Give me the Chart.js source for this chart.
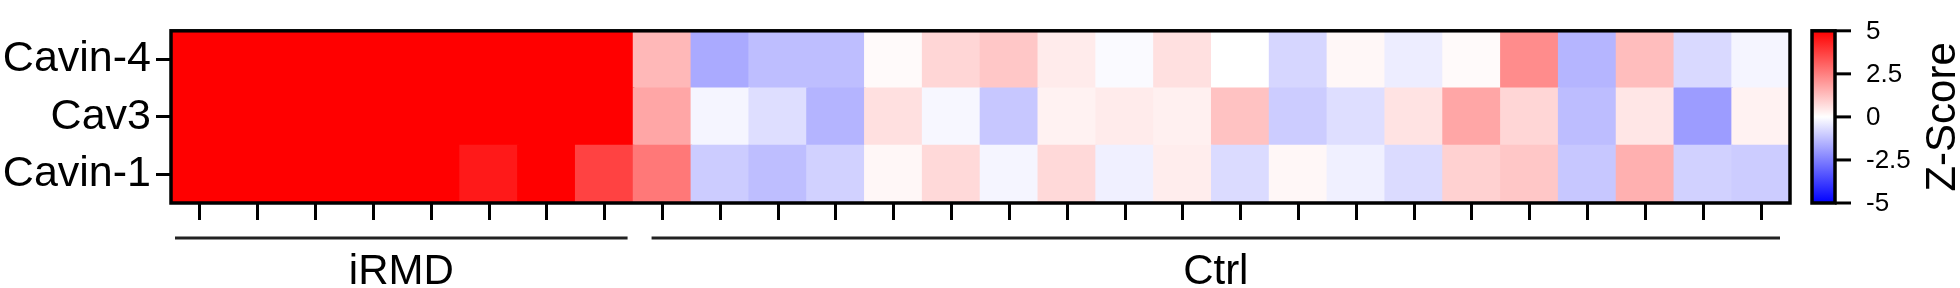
<!DOCTYPE html>
<html>
<head>
<meta charset="utf-8">
<script src="https://cdn.jsdelivr.net/npm/chart.js@4/dist/chart.umd.min.js"></script>
<style>
  html, body { margin: 0; padding: 0; background: #fff; }
  #wrap { width: 1960px; height: 288px; }
</style>
</head>
<body>
<div id="wrap"><canvas id="heat" width="1960" height="288"></canvas></div>
<script>
// Rows, top to bottom as shown
const rowLabels = ['Cavin-4', 'Cav3', 'Cavin-1'];

// Columns: 8 iRMD samples then 20 controls
const groupNames = ['iRMD', 'Ctrl'];
const groupSizes = [8, 20];
const sampleIds = [
  'iRMD1', 'iRMD2', 'iRMD3', 'iRMD4', 'iRMD5', 'iRMD6', 'iRMD7', 'iRMD8',
  'Ctrl1', 'Ctrl2', 'Ctrl3', 'Ctrl4', 'Ctrl5', 'Ctrl6', 'Ctrl7', 'Ctrl8', 'Ctrl9', 'Ctrl10',
  'Ctrl11', 'Ctrl12', 'Ctrl13', 'Ctrl14', 'Ctrl15', 'Ctrl16', 'Ctrl17', 'Ctrl18', 'Ctrl19', 'Ctrl20'
];

// Z-scores (colour scale clips at +/-5)
const cavin4 = [5, 5, 5, 5, 5, 5, 5, 5,
  1.4, -1.67, -1.27, -1.27, 0.1, 0.8, 1.1, 0.4, -0.1, 0.6,
  0, -0.8, 0.15, -0.35, 0.1, 2.25, -1.45, 1.3, -0.75, -0.2];
const cav3 = [5, 5, 5, 5, 5, 5, 5, 5,
  1.75, -0.2, -0.65, -1.47, 0.6, -0.15, -1.1, 0.25, 0.4, 0.3,
  1.2, -1.0, -0.65, 0.55, 1.75, 0.8, -1.3, 0.5, -1.95, 0.25];
const cavin1 = [5, 5, 5, 5, 5, 4.5, 5, 3.7,
  2.65, -1.0, -1.27, -0.9, 0.15, 0.75, -0.2, 0.75, -0.3, 0.35,
  -0.7, 0.15, -0.3, -0.7, 0.9, 1.1, -1.1, 1.55, -0.9, -1.0];

// Colour bar
const zMin = -5;
const zMax = 5;
const colorTicks = [5, 2.5, 0, -2.5, -5];
const colorTitle = 'Z-Score';

const FONT = '"Liberation Sans", Arial, Helvetica, sans-serif';

function zColor(v) {
  let t = Math.max(-1, Math.min(1, v / zMax));
  if (t >= 0) {
    const c = Math.round(255 * (1 - t));
    return `rgb(255,${c},${c})`;
  }
  const c = Math.round(255 * (1 + t));
  return `rgb(${c},${c},255)`;
}

// one stacked bar per row, bottom row first; every cell has height 1
const rowsBottomUp = [
  { label: 'Cavin-1', z: cavin1 },
  { label: 'Cav3', z: cav3 },
  { label: 'Cavin-4', z: cavin4 }
];
const datasets = rowsBottomUp.map((row) => ({
  label: row.label,
  data: row.z.map(() => 1),
  backgroundColor: row.z.map(zColor),
  borderWidth: 0,
  inflateAmount: 0.8,
  barPercentage: 1,
  categoryPercentage: 1
}));

// frame around plot area
const framePlugin = {
  id: 'frame',
  afterDatasetsDraw(chart) {
    const { ctx, chartArea: a } = chart;
    ctx.save();
    ctx.strokeStyle = '#000';
    ctx.lineWidth = 3.5;
    ctx.strokeRect(a.left, a.top, a.right - a.left, a.bottom - a.top);
    ctx.restore();
  }
};

// group lines + labels under the x ticks
const groupPlugin = {
  id: 'groups',
  afterDraw(chart) {
    const { ctx } = chart;
    const x = chart.scales.x;
    const w = x.getPixelForValue(1) - x.getPixelForValue(0);
    const insets = [[4, 6], [18, 10]];
    let start = 0;
    ctx.save();
    groupNames.forEach((name, i) => {
      const end = start + groupSizes[i] - 1;
      const x0 = x.getPixelForValue(start) - w / 2 + insets[i][0];
      const x1 = x.getPixelForValue(end) + w / 2 - insets[i][1];
      ctx.strokeStyle = '#222';
      ctx.lineWidth = 3;
      ctx.beginPath();
      ctx.moveTo(x0, 238);
      ctx.lineTo(x1, 238);
      ctx.stroke();
      ctx.fillStyle = '#000';
      ctx.font = `42px ${FONT}`;
      ctx.textAlign = 'center';
      ctx.textBaseline = 'middle';
      ctx.fillText(name, (x0 + x1) / 2, 272);
      start = end + 1;
    });
    ctx.restore();
  }
};

// colour bar legend at the right
const colorbarPlugin = {
  id: 'colorbar',
  afterDraw(chart) {
    const { ctx, chartArea: a } = chart;
    const left = 1812, right = 1835;
    const top = a.top, bottom = a.bottom;
    const grad = ctx.createLinearGradient(0, top, 0, bottom);
    grad.addColorStop(0, zColor(zMax));
    grad.addColorStop(0.5, zColor(0));
    grad.addColorStop(1, zColor(zMin));
    ctx.save();
    ctx.fillStyle = grad;
    ctx.fillRect(left, top, right - left, bottom - top);
    ctx.strokeStyle = '#000';
    ctx.lineWidth = 3.5;
    ctx.strokeRect(left, top, right - left, bottom - top);
    ctx.font = `26px ${FONT}`;
    ctx.fillStyle = '#000';
    ctx.textAlign = 'left';
    ctx.textBaseline = 'middle';
    colorTicks.forEach((v) => {
      const y = top + (zMax - v) / (zMax - zMin) * (bottom - top);
      ctx.beginPath();
      ctx.moveTo(right, y);
      ctx.lineTo(right + 16, y);
      ctx.lineWidth = 3;
      ctx.stroke();
      ctx.fillText(String(v), 1866, y + 1);
    });
    ctx.translate(1943, (top + bottom) / 2);
    ctx.rotate(-Math.PI / 2);
    ctx.textAlign = 'center';
    ctx.font = `42px ${FONT}`;
    ctx.fillText(colorTitle, 0, 0);
    ctx.restore();
  }
};

new Chart(document.getElementById('heat'), {
  type: 'bar',
  data: { labels: sampleIds, datasets },
  options: {
    responsive: false,
    animation: false,
    layout: { padding: { left: 0, top: 10, right: 170, bottom: 0 } },
    plugins: { legend: { display: false }, tooltip: { enabled: false } },
    scales: {
      x: {
        stacked: true,
        border: { display: false },
        grid: {
          offset: false,
          drawOnChartArea: false,
          drawTicks: true,
          tickLength: 17,
          tickWidth: 3,
          tickColor: '#000'
        },
        ticks: { autoSkip: false, maxRotation: 0, callback: () => '' },
        afterFit: (s) => { s.height = 85; }
      },
      y: {
        stacked: true,
        min: 0,
        max: 3,
        border: { display: false },
        grid: {
          drawOnChartArea: false,
          drawTicks: true,
          tickLength: 15,
          tickWidth: 3,
          tickColor: '#000'
        },
        afterBuildTicks: (s) => {
          s.ticks = [0.5, 1.5, 2.5].map((v) => ({ value: v }));
        },
        ticks: {
          padding: 5,
          color: '#000',
          font: { family: FONT, size: 43 },
          callback: (v) => rowLabels[2 - Math.floor(v)]
        },
        afterFit: (s) => { s.width = 171; }
      }
    }
  },
  plugins: [framePlugin, groupPlugin, colorbarPlugin]
});
</script>
</body>
</html>
